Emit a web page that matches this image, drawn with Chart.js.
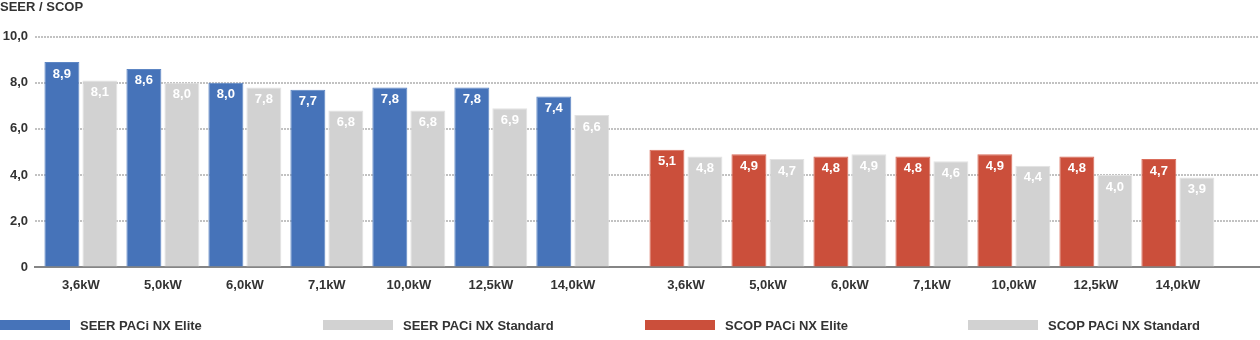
<!DOCTYPE html>
<html>
<head>
<meta charset="utf-8">
<script src="https://cdn.jsdelivr.net/npm/chart.js@4/dist/chart.umd.min.js"></script>
<style>
  html, body { margin: 0; padding: 0; background: #fff; }
  #wrap { position: relative; width: 1260px; height: 340px; overflow: hidden; }
  #legend { position: absolute; left: 0; top: 316px; width: 1260px; height: 18px; }
  .item { position: absolute; top: 0; height: 18px; display: flex; align-items: center;
          font: bold 13px "Liberation Sans", Arial, sans-serif; color: #333; white-space: nowrap; }
  .item .box { display: inline-block; width: 70px; height: 10px; margin-right: 10px; }
</style>
</head>
<body>
<div id="wrap">
  <canvas id="myChart" width="1260" height="340"></canvas>
  <div id="legend"></div>
</div>
<script>
var capacities = ['3,6kW', '5,0kW', '6,0kW', '7,1kW', '10,0kW', '12,5kW', '14,0kW'];
var seerElite = [8.9, 8.6, 8.0, 7.7, 7.8, 7.8, 7.4];
var seerStandard = [8.1, 8.0, 7.8, 6.8, 6.8, 6.9, 6.6];
var scopElite = [5.1, 4.9, 4.8, 4.8, 4.9, 4.8, 4.7];
var scopStandard = [4.8, 4.7, 4.9, 4.6, 4.4, 4.0, 3.9];
var yTicks = [0, 2, 4, 6, 8, 10];

// layout: SCOP block sits a bit further right than a plain next category
var groupGap = 0.38;
var seerPos = capacities.map(function (c, i) { return i; });
var scopPos = capacities.map(function (c, i) { return capacities.length + groupGap + i; });
var tickPos = seerPos.concat(scopPos);
var tickLabels = capacities.concat(capacities);

function points(pos, vals) {
  return vals.map(function (v, i) { return { x: pos[i], y: v }; });
}
function fmt(v) {
  return v.toFixed(1).replace('.', ',');
}

var FONT = '"Liberation Sans", Arial, sans-serif';

var valueLabels = {
  id: 'valueLabels',
  afterDatasetsDraw: function (chart) {
    var ctx = chart.ctx;
    ctx.save();
    ctx.font = 'bold 13px ' + FONT;
    ctx.fillStyle = '#ffffff';
    ctx.textAlign = 'center';
    ctx.textBaseline = 'middle';
    chart.data.datasets.forEach(function (ds, i) {
      chart.getDatasetMeta(i).data.forEach(function (bar, j) {
        ctx.fillText(fmt(ds.data[j].y), bar.x, bar.y + 12);
      });
    });
    ctx.restore();
  }
};

var data = {
  datasets: [{
    label: 'SEER PACi NX Elite',
    stack: 'elite',
    backgroundColor: '#4673b9',
    borderColor: '#5d86c4',
    borderWidth: 1,
    data: points(seerPos, seerElite)
  }, {
    label: 'SEER PACi NX Standard',
    stack: 'standard',
    backgroundColor: '#d2d2d2',
    borderColor: '#e2e2e2',
    borderWidth: 1,
    data: points(seerPos, seerStandard)
  }, {
    label: 'SCOP PACi NX Elite',
    stack: 'elite',
    backgroundColor: '#cb4f3b',
    borderColor: '#da6d5b',
    borderWidth: 1,
    data: points(scopPos, scopElite)
  }, {
    label: 'SCOP PACi NX Standard',
    stack: 'standard',
    backgroundColor: '#d2d2d2',
    borderColor: '#e2e2e2',
    borderWidth: 1,
    data: points(scopPos, scopStandard)
  }]
};

var config = {
  type: 'bar',
  data: data,
  options: {
    responsive: false,
    animation: false,
    categoryPercentage: 0.927,
    barPercentage: 0.92,
    layout: { padding: { left: 0, right: 1, top: 0, bottom: 45 } },
    plugins: {
      legend: { display: false },
      tooltip: { enabled: false },
      title: {
        display: true,
        text: 'SEER / SCOP',
        align: 'start',
        color: '#333333',
        font: { family: FONT, size: 13, weight: 'bold' },
        padding: { top: 0, bottom: 21 }
      }
    },
    scales: {
      x: {
        type: 'linear',
        min: -0.56,
        max: tickPos[tickPos.length - 1] + 0.99,
        offset: false,
        bounds: 'data',
        grid: { display: false },
        border: { display: true, color: '#858585', width: 2 },
        afterBuildTicks: function (scale) {
          scale.ticks = tickPos.map(function (v) { return { value: v }; });
        },
        ticks: {
          autoSkip: false,
          maxRotation: 0,
          padding: 2,
          color: '#333333',
          font: { family: FONT, size: 13, weight: 'bold' },
          callback: function (v, i) { return tickLabels[i]; }
        }
      },
      y: {
        min: yTicks[0],
        max: yTicks[yTicks.length - 1],
        afterFit: function (scale) { scale.width = 35; },
        afterBuildTicks: function (scale) {
          scale.ticks = yTicks.map(function (v) { return { value: v }; });
        },
        grid: { color: '#c2c2c2', lineWidth: 2, drawTicks: false },
        border: { display: false, dash: [2, 1] },
        ticks: {
          padding: 7,
          color: '#333333',
          font: { family: FONT, size: 13, weight: 'bold' },
          callback: function (v) { return v === 0 ? '0' : fmt(v); }
        }
      }
    }
  },
  plugins: [valueLabels]
};

var myChart = new Chart(document.getElementById('myChart'), config);

// legend in fixed columns, like the original
var legendBox = document.getElementById('legend');
myChart.data.datasets.forEach(function (ds, i) {
  var item = document.createElement('div');
  item.className = 'item';
  item.style.left = Math.round(i * 322.7) + 'px';
  var box = document.createElement('span');
  box.className = 'box';
  box.style.background = ds.backgroundColor;
  item.appendChild(box);
  item.appendChild(document.createTextNode(ds.label));
  legendBox.appendChild(item);
});
</script>
</body>
</html>
